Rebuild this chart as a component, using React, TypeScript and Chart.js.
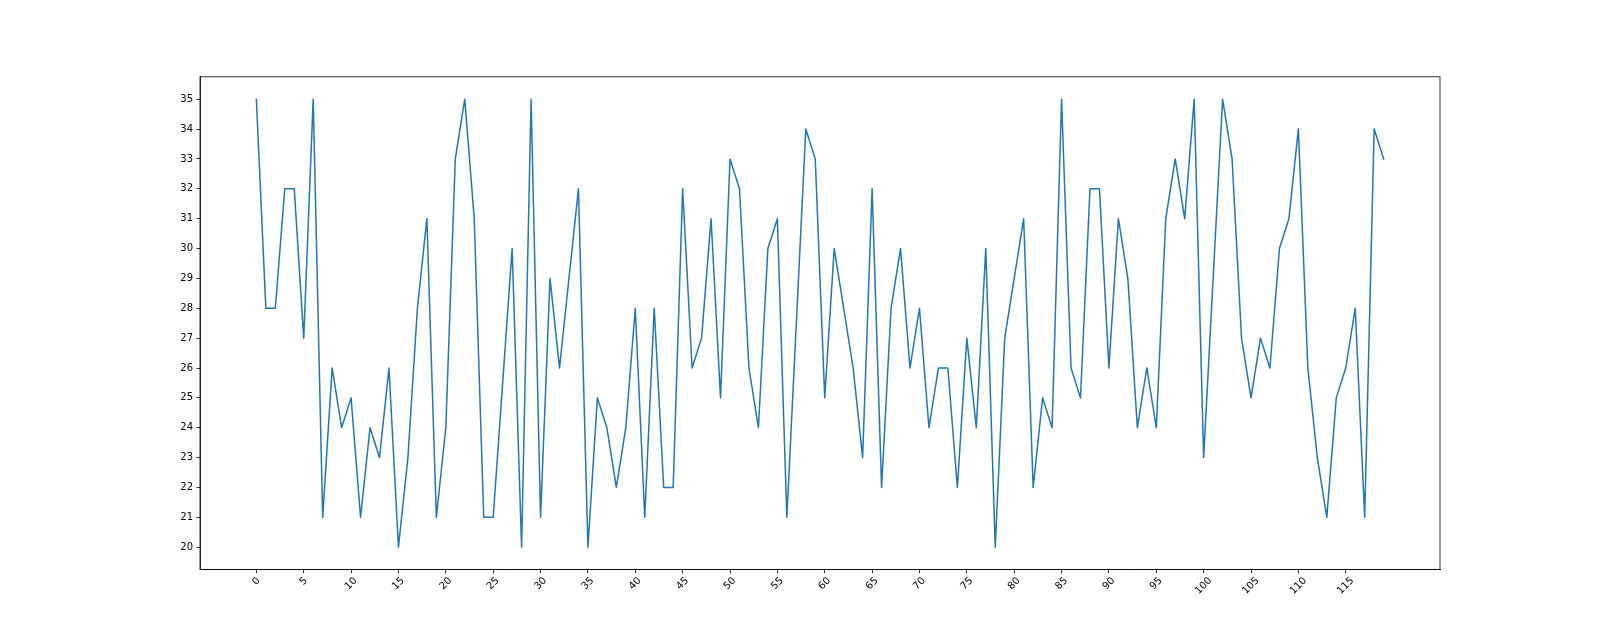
import React, { useEffect, useRef } from "react";
import { Chart, registerables } from "chart.js";

Chart.register(...registerables);

const values: number[] = [
  35, 28, 28, 32, 32, 27, 35, 21, 26, 24,
  25, 21, 24, 23, 26, 20, 23, 28, 31, 21,
  24, 33, 35, 31, 21, 21, 25.5, 30, 20, 35,
  21, 29, 26, 29, 32, 20, 25, 24, 22, 24,
  28, 21, 28, 22, 22, 32, 26, 27, 31, 25,
  33, 32, 26, 24, 30, 31, 21, 27.5, 34, 33,
  25, 30, 28, 26, 23, 32, 22, 28, 30, 26,
  28, 24, 26, 26, 22, 27, 24, 30, 20, 27,
  29, 31, 22, 25, 24, 35, 26, 25, 32, 32,
  26, 31, 29, 24, 26, 24, 31, 33, 31, 35,
  23, 29, 35, 33, 27, 25, 27, 26, 30, 31,
  34, 26, 23, 21, 25, 26, 28, 21, 34, 33,
];
const indices: number[] = values.map((_, i) => i);
const xTicks: number[] = Array.from({ length: 24 }, (_, i) => i * 5);
const yTicks: number[] = [20, 21, 22, 23, 24, 25, 26, 27, 28, 29, 30, 31, 32, 33, 34, 35];

const FONT = "DejaVu Sans";
const FONT_SIZE = 10;

export default function App() {
  const canvasRef = useRef<HTMLCanvasElement | null>(null);

  useEffect(() => {
    const canvas = canvasRef.current;
    if (!canvas) return;

    const framePlugin = {
      id: "framePlugin",
      afterDraw(chart: any) {
        const { ctx, chartArea } = chart;
        const xs = chart.scales.x;
        ctx.save();
        ctx.strokeStyle = "#000";
        ctx.lineWidth = 0.8;
        ctx.strokeRect(chartArea.left, chartArea.top, chartArea.right - chartArea.left, chartArea.bottom - chartArea.top);
        ctx.fillStyle = "#000";
        ctx.font = `${FONT_SIZE}px "${FONT}"`;
        ctx.textAlign = "center";
        ctx.textBaseline = "middle";
        const h = 7.4;
        for (const v of xTicks) {
          const x = xs.getPixelForValue(v);
          const t = String(v);
          const w = ctx.measureText(t).width;
          const box = (w + h) / Math.SQRT2;
          const cy = chartArea.bottom + 3.5 + 3.5 + box / 2;
          ctx.save();
          ctx.translate(x, cy);
          ctx.rotate(-Math.PI / 4);
          ctx.fillText(t, 0, 0);
          ctx.restore();
        }
        ctx.restore();
      },
    };

    const chart = new Chart(canvas, {
      type: "line",
      data: {
        datasets: [
          {
            data: indices.map((i) => ({ x: i, y: values[i] })),
            borderColor: "#1f77b4",
            borderWidth: 1.5,
            borderJoinStyle: "round",
            borderCapStyle: "square",
            pointRadius: 0,
            tension: 0,
            fill: false,
          },
        ],
      },
      options: {
        responsive: false,
        animation: false,
        layout: { padding: { left: 0, right: 160, top: 76.8, bottom: 0 } },
        plugins: {
          legend: { display: false },
          tooltip: { enabled: false },
        },
        scales: {
          x: {
            type: "linear",
            min: -5.95,
            max: 124.95,
            afterBuildTicks: (scale: any) => {
              scale.ticks = xTicks.map((v) => ({ value: v }));
            },
            afterFit: (scale: any) => {
              scale.height = 70.4;
            },
            ticks: { display: false },
            grid: {
              drawOnChartArea: false,
              drawTicks: true,
              tickLength: 3.5,
              tickWidth: 0.8,
              tickColor: "#000",
            },
            border: { display: true, color: "#000", width: 0.8 },
          },
          y: {
            type: "linear",
            min: 19.25,
            max: 35.75,
            afterBuildTicks: (scale: any) => {
              scale.ticks = yTicks.map((v) => ({ value: v }));
            },
            afterFit: (scale: any) => {
              scale.width = 200;
            },
            ticks: {
              color: "#000",
              padding: 3.5,
              font: { family: FONT, size: FONT_SIZE },
              callback: (v: any) => String(v),
            },
            grid: {
              drawOnChartArea: false,
              drawTicks: true,
              tickLength: 3.5,
              tickWidth: 0.8,
              tickColor: "#000",
            },
            border: { display: true, color: "#000", width: 0.8 },
          },
        },
      },
      plugins: [framePlugin],
    });

    return () => chart.destroy();
  }, []);

  return (
    <div style={{ position: "fixed", left: 0, top: 0, width: 1600, height: 640, background: "#fff" }}>
      <canvas ref={canvasRef} width={1600} height={640} style={{ display: "block", width: 1600, height: 640 }} />
    </div>
  );
}
